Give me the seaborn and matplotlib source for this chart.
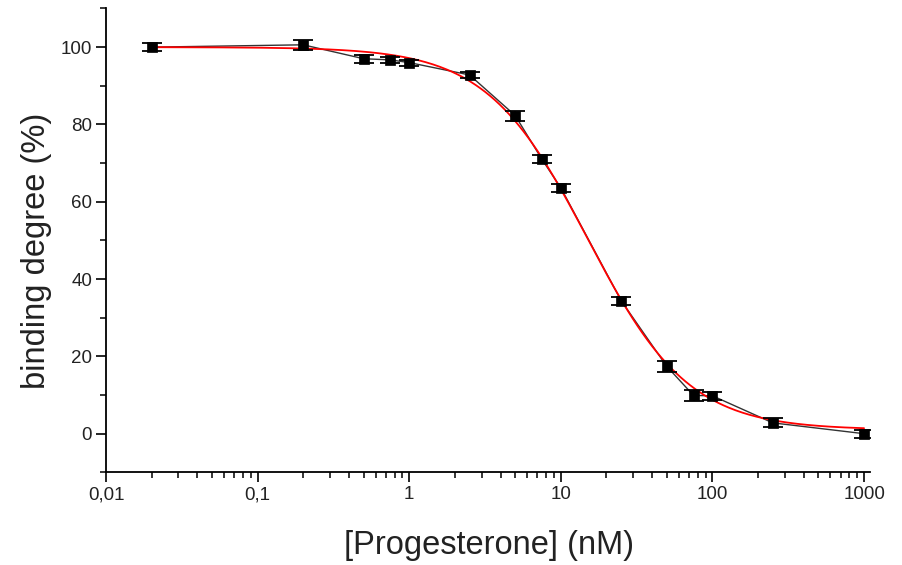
import numpy as np
import pandas as pd
import matplotlib
matplotlib.use("Agg")
import matplotlib.pyplot as plt
import seaborn as sns

# Data
conc_nM = [0.02, 0.2, 0.5, 0.75, 1, 2.5, 5, 7.5, 10, 25, 50, 75, 100, 250, 1000]
binding = [100.0, 100.6, 97.0, 96.7, 96.0, 92.8, 82.3, 71.0, 63.6, 34.4, 17.4, 9.9, 9.8, 2.8, 0.0]
binding_err = [1.0, 1.3, 1.0, 0.8, 0.8, 0.8, 1.3, 1.0, 1.0, 1.0, 1.5, 1.5, 1.0, 1.2, 1.0]

# Four-parameter logistic fit (red curve) parameters
fit_top = 100.0
fit_bottom = 1.0
fit_ic50 = 15.0
fit_hill = 1.30

xtick_vals = [0.01, 0.1, 1, 10, 100, 1000]
xtick_labels = ["0,01", "0,1", "1", "10", "100", "1000"]
ytick_vals = [0, 20, 40, 60, 80, 100]

sns.set_style("ticks")
plt.rcParams['font.family'] = ['Liberation Sans', 'DejaVu Sans']

fig = plt.figure(figsize=(9.03, 5.65), dpi=100)
ax = fig.add_axes([0.1174, 0.164, 0.9635 - 0.1174, 0.985 - 0.164])

df = pd.DataFrame({"conc": conc_nM, "binding": binding, "err": binding_err})

xfit = np.logspace(np.log10(min(conc_nM)), np.log10(max(conc_nM)), 300)
yfit = fit_bottom + (fit_top - fit_bottom) / (1 + (xfit / fit_ic50) ** fit_hill)
fit_df = pd.DataFrame({"conc": xfit, "binding": yfit})

sns.lineplot(data=df, x="conc", y="binding", ax=ax, color="#333333", lw=1.0,
             estimator=None, sort=True, zorder=2)
sns.lineplot(data=fit_df, x="conc", y="binding", ax=ax, color="#ff0000", lw=1.3,
             estimator=None, zorder=3)
ax.errorbar(df["conc"], df["binding"], yerr=df["err"], fmt="none",
            ecolor="black", elinewidth=1.3, capsize=7.5, capthick=1.3, zorder=4)
sns.scatterplot(data=df, x="conc", y="binding", ax=ax, marker="s", s=55,
                color="black", edgecolor="black", linewidth=0.5, zorder=5)

ax.set_xscale("log")
ax.set_xlim(0.01, 1095)
ax.set_ylim(-10, 110)
ax.set_xticks(xtick_vals)
ax.set_xticklabels(xtick_labels)
ax.set_yticks(ytick_vals)
ax.set_yticks([-10, 10, 30, 50, 70, 90, 110], minor=True)
ax.xaxis.set_minor_locator(matplotlib.ticker.LogLocator(base=10, subs=np.arange(2, 10)))
ax.xaxis.set_minor_formatter(matplotlib.ticker.NullFormatter())

for s in ["top", "right"]:
    ax.spines[s].set_visible(False)
for s in ["left", "bottom"]:
    ax.spines[s].set_linewidth(1.3)
    ax.spines[s].set_color("black")

ax.tick_params(axis="both", which="major", direction="out", length=7, width=1.2,
               labelsize=13.5, colors="black", labelcolor="#222222", pad=3)
ax.tick_params(axis="both", which="minor", direction="out", length=4, width=1.1,
               colors="black")

ax.set_xlabel("[Progesterone] (nM)", fontsize=23.5, color="#222222")
ax.set_ylabel("binding degree (%)", fontsize=23.5, color="#222222")
ax.xaxis.set_label_coords(0.5007, -0.124)
ax.yaxis.set_label_coords(-0.0707, 0.477)

fig.savefig("out.png", dpi=100, facecolor="white")
